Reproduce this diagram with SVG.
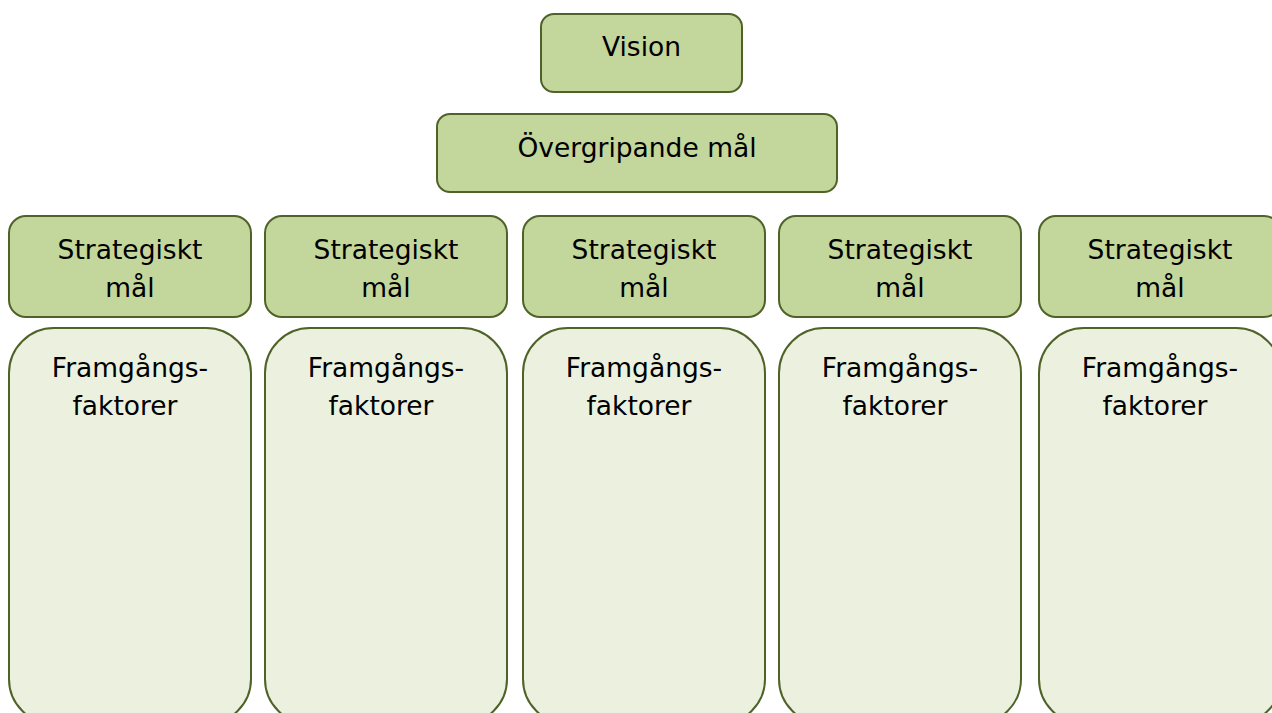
<svg xmlns="http://www.w3.org/2000/svg" width="1272" height="713" viewBox="0 0 1272 713">
<style>
.top{fill:#c3d69b;stroke:#4f6228;stroke-width:2}
.low{fill:#ebf1de;stroke:#4f6228;stroke-width:2}
text{font-family:"DejaVu Sans",Verdana,sans-serif;font-size:26.5px;fill:#000;text-anchor:middle}
</style>
<rect width="1272" height="713" fill="#fff"/>
<g id="vision"><rect class="top" x="541" y="14" width="201" height="78" rx="13"/><text x="641.5" y="56">Vision</text></g>
<g id="overgripande"><rect class="top" x="437" y="114" width="400" height="78" rx="13"/><text x="637" y="157">Övergripande mål</text></g>
<g id="strat1"><rect class="top" x="9" y="216" width="242" height="101" rx="17"/><text x="130" y="259">Strategiskt</text><text x="130" y="297">mål</text></g>
<g id="strat2"><rect class="top" x="265" y="216" width="242" height="101" rx="17"/><text x="386" y="259">Strategiskt</text><text x="386" y="297">mål</text></g>
<g id="strat3"><rect class="top" x="523" y="216" width="242" height="101" rx="17"/><text x="644" y="259">Strategiskt</text><text x="644" y="297">mål</text></g>
<g id="strat4"><rect class="top" x="779" y="216" width="242" height="101" rx="17"/><text x="900" y="259">Strategiskt</text><text x="900" y="297">mål</text></g>
<g id="strat5"><rect class="top" x="1039" y="216" width="242" height="101" rx="17"/><text x="1160" y="259">Strategiskt</text><text x="1160" y="297">mål</text></g>
<g id="fram1"><rect class="low" x="9" y="328" width="242" height="396" rx="45"/><text x="130" y="377">Framgångs-</text><text x="125" y="415">faktorer</text></g>
<g id="fram2"><rect class="low" x="265" y="328" width="242" height="396" rx="45"/><text x="386" y="377">Framgångs-</text><text x="381" y="415">faktorer</text></g>
<g id="fram3"><rect class="low" x="523" y="328" width="242" height="396" rx="45"/><text x="644" y="377">Framgångs-</text><text x="639" y="415">faktorer</text></g>
<g id="fram4"><rect class="low" x="779" y="328" width="242" height="396" rx="45"/><text x="900" y="377">Framgångs-</text><text x="895" y="415">faktorer</text></g>
<g id="fram5"><rect class="low" x="1039" y="328" width="242" height="396" rx="45"/><text x="1160" y="377">Framgångs-</text><text x="1155" y="415">faktorer</text></g>
<g id="connectors"></g>
</svg>
